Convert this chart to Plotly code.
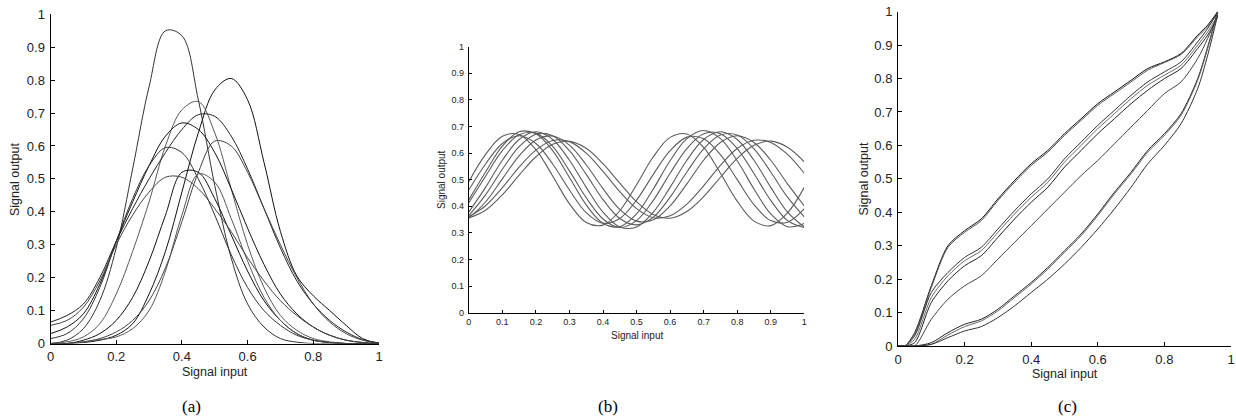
import plotly.graph_objects as go

W, H = 1236, 419

# ---------------- Panel (a) data ----------------
xa = [0.0, 0.05, 0.10, 0.15, 0.20, 0.25, 0.30, 0.35, 0.40, 0.45, 0.50,
      0.55, 0.60, 0.65, 0.70, 0.75, 0.80, 0.85, 0.90, 0.95, 1.0]
a1 = [0, .01, .045, .13, .29, .53, .78, .95, .935, .74, .48, .26, .12, .05, .015, .004, 0, 0, 0, 0, 0]
a2 = [0, 0, .003, .01, .025, .06, .15, .28, .46, .64, .77, .805, .74, .55, .34, .205, .145, .10, .055, .015, 0]
a3 = [0, .005, .02, .06, .15, .28, .43, .60, .71, .735, .64, .47, .30, .17, .085, .04, .015, .005, 0, 0, 0]
a4 = [.065, .085, .12, .20, .31, .41, .50, .58, .65, .695, .69, .63, .53, .41, .29, .19, .12, .07, .035, .012, .002]
a5 = [.03, .05, .09, .18, .31, .43, .54, .63, .67, .65, .58, .47, .35, .24, .15, .09, .05, .025, .01, .003, 0]
a6 = [0, 0, .005, .015, .035, .07, .13, .23, .37, .52, .615, .60, .52, .41, .30, .20, .12, .065, .03, .01, 0]
a7 = [.015, .03, .075, .17, .31, .44, .54, .595, .58, .50, .39, .27, .17, .10, .055, .025, .01, .003, 0, 0, 0]
a8 = [0, 0, .01, .03, .07, .14, .25, .39, .52, .52, .44, .33, .22, .13, .07, .03, .01, .003, 0, 0, 0]
a9 = [0, 0, .005, .012, .02, .045, .10, .22, .39, .515, .49, .38, .25, .14, .07, .03, .01, .003, 0, 0, 0]
a10 = [.055, .07, .11, .19, .30, .39, .46, .505, .505, .47, .41, .34, .26, .19, .13, .085, .05, .025, .01, .003, 0]
series_a = [a1, a2, a3, a4, a5, a6, a7, a8, a9, a10]

# ---------------- Panel (b) data ----------------
xb = xa
b1 = [.492, .595, .663, .670, .613, .514, .409, .339, .329, .383, .481, .586, .659, .672, .621, .524, .419, .344, .327, .375, .471]
b2 = [.461, .559, .636, .665, .636, .559, .461, .376, .336, .354, .423, .520, .609, .660, .654, .594, .500, .406, .346, .340, .391]
b3 = [.424, .529, .626, .680, .673, .609, .508, .405, .336, .323, .371, .465, .571, .654, .685, .654, .571, .465, .371, .323, .335]
b4 = [.413, .513, .609, .669, .675, .625, .533, .432, .352, .320, .346, .422, .524, .617, .673, .673, .617, .523, .422, .346, .320]
b5 = [.378, .471, .573, .651, .680, .651, .573, .471, .378, .322, .322, .378, .471, .573, .651, .680, .651, .573, .471, .378, .322]
b6 = [.365, .443, .539, .624, .671, .665, .609, .520, .425, .354, .330, .359, .434, .529, .616, .668, .668, .616, .529, .434, .360]
b7 = [.356, .416, .503, .589, .649, .664, .630, .556, .466, .388, .344, .349, .401, .484, .573, .640, .665, .640, .573, .484, .401]
b8 = [.361, .402, .470, .547, .611, .647, .643, .600, .531, .455, .391, .357, .364, .408, .477, .554, .617, .648, .640, .595, .524]
b9 = [.356, .385, .443, .517, .586, .633, .644, .618, .560, .487, .417, .369, .355, .380, .436, .509, .580, .629, .645, .622, .567]
series_b = [b1, b2, b3, b4, b5, b6, b7, b8, b9]

# ---------------- Panel (c) data ----------------
xc = [0.0, 0.02, 0.05, 0.10, 0.15, 0.20, 0.25, 0.30, 0.35, 0.40, 0.45,
      0.50, 0.55, 0.60, 0.65, 0.70, 0.75, 0.80, 0.85, 0.90, 0.93, 0.96]
c1 = [0, 0, .04, .18, .30, .345, .38, .44, .495, .545, .585, .635, .68, .725, .76, .795, .83, .85, .875, .93, .96, 1.0]
c2 = [0, 0, .035, .175, .295, .34, .375, .435, .49, .54, .58, .63, .675, .72, .755, .79, .825, .848, .872, .925, .955, .995]
c3 = [0, 0, .03, .16, .22, .265, .295, .35, .405, .455, .50, .56, .61, .66, .705, .75, .79, .82, .85, .91, .95, 1.0]
c4 = [0, 0, .02, .145, .21, .255, .285, .34, .395, .445, .49, .55, .60, .65, .695, .74, .78, .81, .84, .90, .94, .99]
c5 = [0, 0, .01, .13, .195, .24, .27, .325, .38, .43, .475, .535, .585, .635, .68, .725, .765, .80, .83, .89, .93, .985]
c6 = [0, 0, 0, .08, .14, .18, .21, .26, .31, .36, .41, .46, .51, .555, .605, .655, .705, .755, .79, .86, .92, .99]
c7 = [0, 0, 0, .01, .04, .065, .08, .11, .15, .19, .235, .285, .335, .395, .46, .52, .585, .635, .695, .80, .895, 1.0]
c8 = [0, 0, 0, .005, .033, .058, .075, .105, .145, .185, .23, .28, .33, .39, .455, .515, .58, .63, .69, .795, .89, .995]
c9 = [0, 0, 0, .005, .025, .045, .058, .085, .12, .16, .20, .245, .295, .35, .41, .475, .545, .60, .665, .77, .87, .99]
series_c = [c1, c2, c3, c4, c5, c6, c7, c8, c9]

ticks_a = [0, 0.2, 0.4, 0.6, 0.8, 1]
ticks_a_text = ["0", "0.2", "0.4", "0.6", "0.8", "1"]
ticks_y = [0, 0.1, 0.2, 0.3, 0.4, 0.5, 0.6, 0.7, 0.8, 0.9, 1]
ticks_y_text = ["0", "0.1", "0.2", "0.3", "0.4", "0.5", "0.6", "0.7", "0.8", "0.9", "1"]

colors_a = ["#333333", "#111111", "#5a5a5a", "#222222", "#111111", "#444444", "#333333", "#111111", "#555555", "#444444"]
colors_c = ["#111111", "#555555", "#333333", "#6a6a6a", "#222222", "#444444", "#222222", "#666666", "#333333"]

fig = go.Figure()
for i, ys in enumerate(series_a):
    fig.add_trace(go.Scatter(x=xa, y=ys, mode="lines", xaxis="x", yaxis="y",
                             line=dict(color=colors_a[i], width=1, shape="spline", smoothing=1.0),
                             showlegend=False, hoverinfo="skip"))
for i, ys in enumerate(series_b):
    fig.add_trace(go.Scatter(x=xb, y=ys, mode="lines", xaxis="x2", yaxis="y2",
                             line=dict(color="#5c5c5c", width=1.1, shape="spline", smoothing=1.0),
                             showlegend=False, hoverinfo="skip"))
for i, ys in enumerate(series_c):
    fig.add_trace(go.Scatter(x=xc, y=ys, mode="lines", xaxis="x3", yaxis="y3",
                             line=dict(color=colors_c[i], width=1, shape="spline", smoothing=0.8),
                             showlegend=False, hoverinfo="skip"))

FONT = "Liberation Sans, Arial, sans-serif"

def ax(domain, anchor, tickvals, ticktext, size, ticklen, standoff):
    return dict(domain=domain, anchor=anchor, range=[0, 1], showline=True, linecolor="#000",
                linewidth=1, ticks="inside", ticklen=ticklen, tickwidth=1, tickcolor="#000",
                showgrid=False, zeroline=False, tickvals=tickvals, ticktext=ticktext,
                tickfont=dict(family=FONT, size=size, color="#222"), fixedrange=True,
                ticklabelstandoff=standoff, automargin=False, ticklabeloverflow="allow")

def px_x(p):
    return p / W

def px_y(p):
    return 1 - p / H

dom_a_x = [px_x(50.5), px_x(379)]
dom_a_y = [px_y(343.5), px_y(14.3)]
dom_b_x = [px_x(468.8), px_x(804.3)]
dom_b_y = [px_y(312.6), px_y(46.7)]
dom_c_x = [px_x(898), px_x(1231)]
dom_c_y = [px_y(346), px_y(11.7)]

fig.update_layout(
    width=W, height=H, margin=dict(l=0, r=0, t=0, b=0, autoexpand=False),
    paper_bgcolor="white", plot_bgcolor="white", showlegend=False,
    xaxis=ax(dom_a_x, "y", ticks_a, ticks_a_text, 13, 4, 1),
    yaxis=ax(dom_a_y, "x", ticks_y, ticks_y_text, 13, 4, 2),
    xaxis2=ax(dom_b_x, "y2", ticks_y, ticks_y_text, 9, 3, 1),
    yaxis2=ax(dom_b_y, "x2", ticks_y, ticks_y_text, 9, 3, 2),
    xaxis3=ax(dom_c_x, "y3", ticks_a, ticks_a_text, 13, 4, 1),
    yaxis3=ax(dom_c_y, "x3", ticks_y, ticks_y_text, 13, 4, 2),
)

ann = []
def txt(x, y, s, size, family=FONT, angle=0, color="#222"):
    ann.append(dict(x=x / W, y=1 - y / H, xref="paper", yref="paper", text=s, showarrow=False,
                    font=dict(family=family, size=size, color=color), textangle=angle,
                    xanchor="center", yanchor="middle"))

txt(214.5, 371.5, "Signal input", 12.5)
txt(15, 179, "Signal output", 12.5, angle=-90)
txt(636.5, 335, "Signal input", 10)
txt(441, 180, "Signal output", 10, angle=-90)
txt(1064.5, 373.5, "Signal input", 12.5)
txt(863.5, 179, "Signal output", 12.5, angle=-90)

SERIF = "Liberation Serif, Times New Roman, serif"
txt(191, 406, "(a)", 17, family=SERIF, color="#000")
txt(607.5, 406, "(b)", 17, family=SERIF, color="#000")
txt(1067, 406, "(c)", 17, family=SERIF, color="#000")

fig.update_layout(annotations=ann)
fig.write_html("out.html", config={"displayModeBar": False, "staticPlot": True},
               post_script="document.body.style.margin='0';document.body.style.overflow='hidden';")
